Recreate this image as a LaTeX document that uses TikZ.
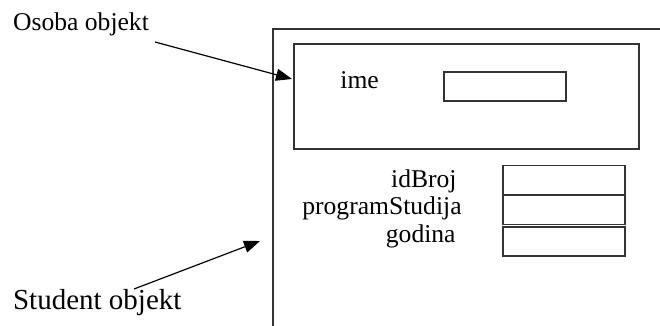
\documentclass[tikz,border=0pt]{standalone}
\usepackage{fontspec}
\setmainfont{Liberation Serif}
\usetikzlibrary{arrows.meta}

\tikzset{
  rub/.style={draw=black!80, line width=0.6pt},
  polje/.style={rub, inner sep=0pt, minimum width=61pt, minimum height=14.5pt},
  oznaka/.style={font=\fontsize{12.8}{14}\selectfont, inner sep=0pt},
  strelica/.style={line width=0.6pt, -{Triangle[length=8pt,width=6pt]}}
}

\begin{document}
\begin{tikzpicture}[x=0.5pt, y=-0.5pt]
  \useasboundingbox (0,0) rectangle (660,326);
  % student objekt
  \draw[rub] (273,326) -- (273,29) -- (660,29);
  % osoba objekt
  \draw[rub] (294,44) rectangle (639,149);
  \node[oznaka, anchor=base west] (ime) at (340,89) {ime};
  \node[polje] (imeBox) at (505,86.5) {};
  % polja studenta
  \foreach \ime/\y/\yb/\xr in {idBroj/180/188/457, programStudija/210/214.5/462, godina/241.5/243/456}
  {
    \node[oznaka, anchor=base east] (\ime) at (\xr,\yb) {\ime};
    \node[polje] (\ime Box) at (564,\y) {};
  }
  % oznake
  \node[oznaka, anchor=base west] (osobaLbl) at (12.7,30.7) {Osoba objekt};
  \node[font=\fontsize{14.5}{16}\selectfont, inner sep=0pt, anchor=base west] (studentLbl) at (12.7,309.7) {Student objekt};
  \coordinate (osobaRep) at (155,42);
  \coordinate (osobaVrh) at (292,79);
  \coordinate (studentRep) at (134,289);
  \coordinate (studentVrh) at (260,241);
  \draw[strelica] (osobaRep) -- (osobaVrh);
  \draw[strelica] (studentRep) -- (studentVrh);
\end{tikzpicture}
\end{document}
